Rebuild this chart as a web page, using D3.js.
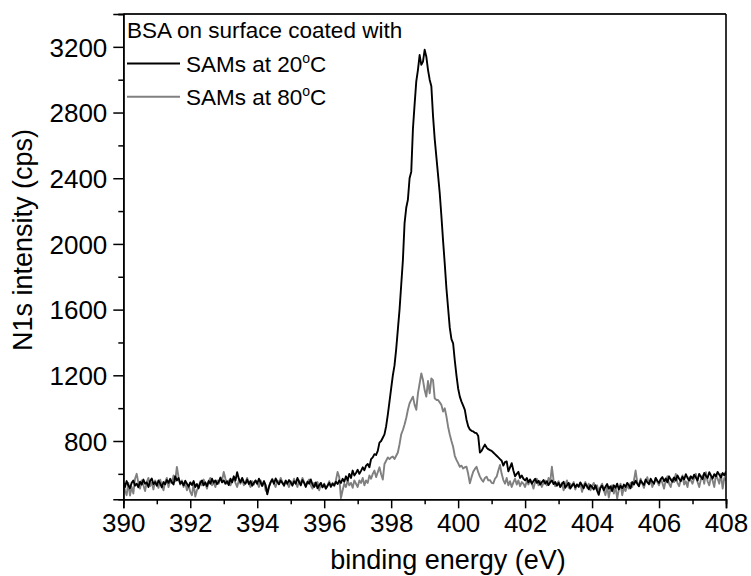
<!DOCTYPE html>
<html>
<head>
<meta charset="utf-8">
<script src="https://cdn.jsdelivr.net/npm/d3@7/dist/d3.min.js"></script>
<style>
  html, body { margin: 0; padding: 0; background: #fff; }
  svg { display: block; }
  text { font-family: "Liberation Sans", Arial, Helvetica, sans-serif; fill: #000; }
</style>
</head>
<body>
<svg id="chart" width="751" height="576"></svg>
<script>
// ---------------- data ----------------
// binding energy grid: 390.00 .. 408.00 eV in 0.05 eV steps (361 points)
const energyStart = 390, energyStep = 0.05;

// N1s intensity (cps), BSA on SAMs at 20 °C
const sams20 = [
  548,520,556,530,512,545,560,528,540,518,552,535,565,540,548,520,556,572,538,550,
  528,560,542,518,550,536,562,545,570,548,535,585,560,575,540,552,530,558,540,522,
  548,532,556,520,538,512,545,560,530,548,525,556,540,570,546,560,538,552,575,548,
  560,540,555,532,570,548,585,560,610,570,548,575,550,540,565,538,556,528,545,560,
  540,570,548,526,555,532,475,520,548,565,540,572,550,536,560,545,530,558,540,562,
  548,528,555,540,575,550,530,562,545,520,552,540,566,535,520,548,512,530,545,518,
  536,510,528,545,522,540,530,552,538,560,545,570,552,585,560,600,575,620,590,605,
  625,600,618,640,622,650,660,640,690,700,720,715,740,790,800,820,840,890,960,1040,
  1120,1200,1260,1360,1480,1600,1750,1900,2126,2220,2270,2400,2440,2700,2850,2990,3060,3150,3090,3110,
  3182,3140,3060,3000,2960,2780,2640,2530,2420,2310,2170,2020,1880,1730,1610,1490,1420,1395,1290,1200,
  1120,1070,1040,1015,990,930,890,870,862,858,850,848,830,730,740,760,778,760,750,745,
  740,730,720,710,700,690,680,650,672,676,615,640,665,620,585,600,612,575,590,570,
  560,575,548,565,540,556,570,545,558,535,550,562,540,555,532,548,560,538,550,528,
  545,520,538,552,515,530,545,510,528,540,518,535,522,548,530,512,540,525,506,532,
  520,505,530,498,472,515,528,500,522,538,510,525,495,530,515,540,505,528,512,535,
  520,545,530,512,550,535,558,540,525,560,545,532,565,548,538,570,552,540,575,558,
  545,568,580,555,572,548,585,565,552,578,560,590,570,555,582,565,598,575,560,585,
  570,595,578,560,600,582,568,605,588,575,610,590,572,598,585,612,595,578,605,590,
  615
];

// N1s intensity (cps), BSA on SAMs at 80 °C
const sams80 = [
  540,500,470,545,468,520,480,570,600,545,510,560,530,495,550,575,525,548,505,560,
  540,515,565,530,500,550,575,520,560,545,590,555,642,580,535,560,520,545,500,530,
  490,470,540,462,500,520,555,530,565,540,510,555,575,530,548,520,560,540,580,560,
  611,570,540,560,530,555,575,545,520,560,540,568,530,550,575,540,520,555,535,560,
  545,520,560,530,555,500,485,525,550,570,540,520,560,545,575,550,525,560,540,520,
  555,535,570,545,520,560,540,575,550,525,548,565,530,510,545,525,550,500,535,520,
  540,510,530,555,520,545,525,560,611,580,452,500,540,520,560,530,545,515,560,540,
  520,560,545,575,530,560,545,590,570,600,620,580,610,640,598,565,660,680,700,690,
  700,705,690,710,730,780,840,867,900,940,990,1030,1050,1070,1020,990,1090,1150,1212,1171,
  1110,1070,1165,1090,1181,1171,1060,1050,1050,1035,1020,979,999,950,887,840,800,765,710,685,
  665,643,650,633,640,643,600,542,580,613,630,643,610,583,565,552,575,583,560,562,
  545,542,570,583,620,654,600,562,540,575,530,555,520,548,570,535,560,525,550,540,
  520,555,535,565,545,510,550,570,530,555,520,545,560,530,575,550,643,560,525,540,
  555,520,545,500,530,560,515,540,525,550,505,535,520,545,490,530,550,515,540,500,
  525,545,510,530,490,520,540,500,470,525,455,510,530,480,520,450,505,540,470,515,
  495,530,510,545,520,560,620,550,525,570,540,515,555,580,535,560,520,545,575,550,
  530,565,545,510,560,585,540,520,570,550,600,545,525,565,590,535,555,520,580,560,
  540,575,600,550,520,565,590,540,610,555,530,580,560,520,595,570,540,600,510,575,
  560
];

const xMajorTicks = [390,392,394,396,398,400,402,404,406,408];
const xMinorTicks = [391,393,395,397,399,401,403,405,407];
const yMajorTicks = [800,1200,1600,2000,2400,2800,3200];
const yMinorTicks = [600,1000,1400,1800,2200,2600,3000,3400];

const legendTitle = "BSA on surface coated with";
const seriesNames = ["SAMs at 20", "SAMs at 80"];

// ---------------- drawing ----------------
const svg = d3.select("#chart");
const mLeft = 123.3, mRight = 726, mTop = 14, mBottom = 499.3;

const x = d3.scaleLinear().domain([390, 408]).range([mLeft, mRight]);
const y = d3.scaleLinear().domain([445, 3400]).range([mBottom, mTop]);

const toPoints = arr => arr.map((v, i) => [energyStart + i * energyStep, v]);
const series = [
  { name: seriesNames[0], data: toPoints(sams20), color: "#000000" },
  { name: seriesNames[1], data: toPoints(sams80), color: "#808080" }
];

svg.append("defs").append("clipPath").attr("id", "plotclip")
  .append("rect").attr("x", mLeft).attr("y", mTop)
  .attr("width", mRight - mLeft).attr("height", mBottom - mTop);

const line = d3.line().x(d => x(d[0])).y(d => y(d[1]));

const plot = svg.append("g").attr("clip-path", "url(#plotclip)");
[series[1], series[0]].forEach(s => {
  plot.append("path")
    .datum(s.data)
    .attr("fill", "none")
    .attr("stroke", s.color)
    .attr("stroke-width", 1.9)
    .attr("stroke-linejoin", "round")
    .attr("d", line);
});

// frame: top and right
svg.append("line").attr("x1", mLeft).attr("x2", mRight).attr("y1", y(3400)).attr("y2", y(3400))
  .attr("stroke", "#222").attr("stroke-width", 1.8);
svg.append("line").attr("x1", mRight).attr("x2", mRight).attr("y1", mTop).attr("y2", mBottom)
  .attr("stroke", "#000").attr("stroke-width", 1.6);

// axes
const fontSize = 26;
const xAxis = svg.append("g").attr("transform", `translate(0,${mBottom})`)
  .call(d3.axisBottom(x).tickValues(xMajorTicks).tickSize(9).tickPadding(5).tickFormat(d3.format("d")));
const xAxisMinor = svg.append("g").attr("transform", `translate(0,${mBottom})`)
  .call(d3.axisBottom(x).tickValues(xMinorTicks).tickSize(5).tickFormat(""));
const yAxis = svg.append("g").attr("transform", `translate(${mLeft},0)`)
  .call(d3.axisLeft(y).tickValues(yMajorTicks).tickSize(10).tickPadding(6).tickFormat(d3.format("d")));
const yAxisMinor = svg.append("g").attr("transform", `translate(${mLeft},0)`)
  .call(d3.axisLeft(y).tickValues(yMinorTicks).tickSize(5).tickFormat(""));

[xAxis, xAxisMinor, yAxis, yAxisMinor].forEach(g => {
  g.select(".domain").attr("stroke", "#000").attr("stroke-width", 1.6);
  g.selectAll(".tick line").attr("stroke", "#000").attr("stroke-width", 1.5);
  g.selectAll(".tick text").attr("font-size", fontSize)
    .attr("font-family", '"Liberation Sans", Arial, sans-serif').attr("fill", "#000");
});
yAxis.selectAll(".tick text").attr("dy", "0.36em");

// axis titles
svg.append("text")
  .attr("x", 448).attr("y", 569)
  .attr("text-anchor", "middle").attr("font-size", 27)
  .text("binding energy (eV)");
svg.append("text")
  .attr("transform", "translate(32,240) rotate(-90)")
  .attr("text-anchor", "middle").attr("font-size", 27)
  .text("N1s intensity (cps)");

// legend
const legFont = 22.5;
svg.append("text").attr("x", 127).attr("y", 37.5).attr("font-size", legFont).text(legendTitle);
series.forEach((s, i) => {
  const ly = 63.5 + i * 33.3;
  svg.append("line").attr("x1", 127).attr("x2", 180).attr("y1", ly).attr("y2", ly)
    .attr("stroke", s.color).attr("stroke-width", 1.9);
  const t = svg.append("text").attr("x", 186).attr("y", ly + 8.3).attr("font-size", legFont);
  t.append("tspan").text(s.name);
  t.append("tspan").attr("font-size", 14).attr("dy", -9).text("o");
  t.append("tspan").attr("dy", 9).text("C");
});
</script>
</body>
</html>
